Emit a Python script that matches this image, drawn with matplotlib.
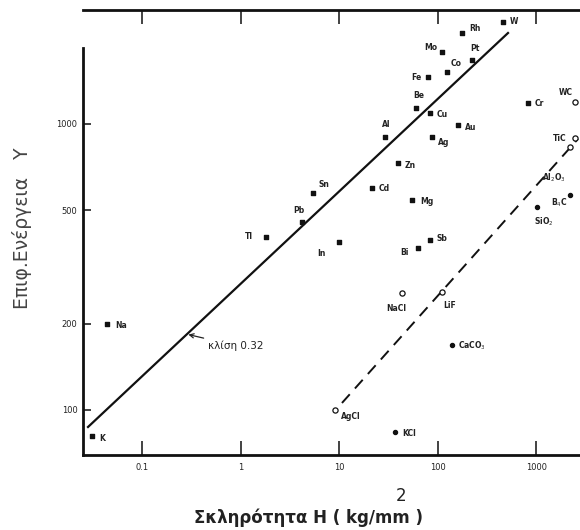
import matplotlib
matplotlib.use('Agg')
import matplotlib.pyplot as plt

# metals (filled markers)
metals = ['K', 'Na', 'Tl', 'Pb', 'Sn', 'In', 'Cd', 'Zn', 'Mg', 'Al', 'Bi', 'Sb',
          'Be', 'Cu', 'Ag', 'Au', 'Fe', 'Co', 'Mo', 'Pt', 'Rh', 'W', 'Cr']
metal_H = [0.0307, 0.0436, 1.79, 4.16, 5.38, 9.89, 21.4, 39.3, 54.5, 29.0, 62.7, 83.0,
           59.8, 83.0, 86.9, 160, 79.1, 123, 110, 221, 175, 457, 820]
metal_Y = [81, 200, 403, 454, 574, 386, 597, 731, 542, 901, 368, 393,
           1138, 1092, 901, 992, 1459, 1520, 1786, 1675, 2080, 2274, 1183]

# non-metals
nonmetals = ['KCl', 'AgCl', 'NaCl', 'LiF', 'CaCO$_3$', 'SiO$_2$', 'B$_4$C',
             'Al$_2$O$_3$', 'TiC', 'WC']
nonmetal_H = [36.6, 9.0, 43.1, 110, 139, 1012, 2188, 2188, 2460, 2460]
nonmetal_Y = [83.8, 100, 256, 259, 169, 513, 565, 832, 893, 1194]
nonmetal_open = [False, True, True, True, False, False, False, True, True, True]

# fitted lines
fit_H = [0.028, 514]
fit_Y = [87.2, 2080]
ionic_H = [10.6, 2640]
ionic_Y = [105.8, 887]

xticks = [0.1, 1, 10, 100, 1000]
xticklabels = ['0.1', '1', '10', '100', '1000']
yticks = [100, 200, 500, 1000]
yticklabels = ['100', '200', '500', '1000']

# label offsets (points)
metal_off = {'K': (5, -2), 'Na': (6, -1), 'Tl': (-15, 0), 'Pb': (-6, 8), 'Sn': (4, 6),
             'In': (-16, -8), 'Cd': (5, 0), 'Zn': (5, -2), 'Mg': (6, -1), 'Al': (-2, 9),
             'Bi': (-13, -3), 'Sb': (5, 1), 'Be': (-2, 9), 'Cu': (5, -1), 'Ag': (4, -4),
             'Au': (5, -2), 'Fe': (-12, 0), 'Co': (3, 6), 'Mo': (-13, 3), 'Pt': (-1, 8),
             'Rh': (5, 3), 'W': (5, 0), 'Cr': (5, 0)}
nonmetal_off = {'KCl': (5, -1), 'AgCl': (4, -5), 'NaCl': (-11, -11), 'LiF': (1, -10),
                'CaCO$_3$': (4, -1), 'SiO$_2$': (-2, -11), 'B$_4$C': (-14, -6),
                'Al$_2$O$_3$': (-20, -22), 'TiC': (-16, 0), 'WC': (-12, 7)}

fig = plt.figure(figsize=(5.8, 5.3), dpi=100)
ax = fig.add_axes([83 / 580, 75 / 530, 497 / 580, 445 / 530])
ax.set_xscale('log')
ax.set_yscale('log')
ax.set_xlim(0.0249, 2766)
ax.set_ylim(69.6, 2503)

ax.plot(fit_H, fit_Y, color='#111111', lw=1.6)
ax.plot(ionic_H, ionic_Y, color='#111111', lw=1.4, dashes=(6, 4))

ax.scatter(metal_H, metal_Y, s=9, marker='s', color='#111111', zorder=3)
for name, h, y in zip(metals, metal_H, metal_Y):
    ax.annotate(name, (h, y), xytext=metal_off[name], textcoords='offset points',
                fontsize=5.5, fontweight='bold', color='#222222', va='center')

for name, h, y, op in zip(nonmetals, nonmetal_H, nonmetal_Y, nonmetal_open):
    ax.scatter([h], [y], s=14 if op else 9, marker='o',
               facecolor='white' if op else '#111111', edgecolor='#111111',
               linewidth=0.9, zorder=3)
    ax.annotate(name, (h, y), xytext=nonmetal_off[name], textcoords='offset points',
                fontsize=5.5, fontweight='bold', color='#222222', va='center')

# slope annotation
ax.annotate('κλίση 0.32', xy=(0.283, 184), xytext=(0.46, 168),
            fontsize=7.5, color='#222222', va='center',
            arrowprops=dict(arrowstyle='->', color='#222222', lw=0.9,
                            shrinkA=1, shrinkB=1))

ax.set_xticks(xticks)
ax.set_xticklabels(xticklabels)
ax.set_yticks(yticks)
ax.set_yticklabels(yticklabels)
ax.minorticks_off()
ax.tick_params(axis='x', direction='in', length=10, width=1.2, top=True,
               labelsize=6, colors='#222222', pad=6)
ax.tick_params(axis='y', direction='in', length=6, width=1.2, labelsize=6,
               colors='#222222', pad=4)

for s in ['left', 'bottom', 'top']:
    ax.spines[s].set_linewidth(2)
    ax.spines[s].set_color('#111111')
ax.spines['right'].set_visible(False)
ax.spines['left'].set_bounds(69.6, 1844)

fig.text(22 / 580, 1 - 228 / 530, 'Επιφ.Ενέργεια   Υ', rotation=90,
         ha='center', va='center', fontsize=13.5, color='#444444')
fig.text(308 / 580, 1 - 518 / 530, 'Σκληρότητα Η ( kg/mm )', ha='center',
         va='center', fontsize=12, fontweight='bold', color='#222222')
fig.text(401 / 580, 1 - 496 / 530, '2', ha='center', va='center',
         fontsize=12, color='#222222')

fig.savefig('out.png', dpi=100, facecolor='white')
